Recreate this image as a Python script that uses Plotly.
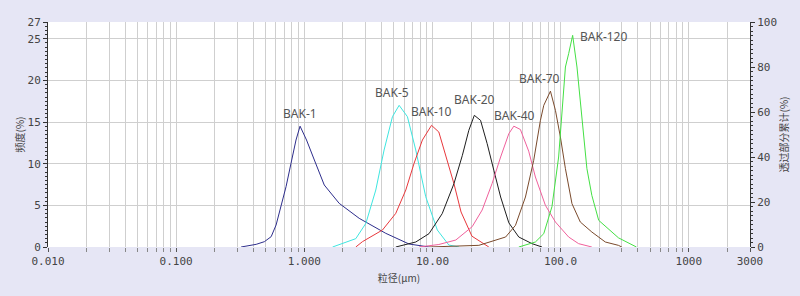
import plotly.graph_objects as go
import numpy as np

# ---------------- data ----------------
names = ["BAK-1", "BAK-5", "BAK-10", "BAK-20", "BAK-40", "BAK-70", "BAK-120"]

bak1_d = [0.321, 0.421, 0.488, 0.551, 0.602, 0.659, 0.720, 0.787, 0.861, 0.926, 1.04, 1.197, 1.43, 1.87, 2.68, 4.32, 6.56, 9.4]
bak1_f = [0.0, 0.32, 0.64, 1.24, 2.64, 4.84, 7.24, 10.04, 12.84, 14.5, 12.84, 10.44, 7.44, 5.24, 3.44, 1.64, 0.36, 0.0]

bak5_d = [1.66, 2.52, 3.02, 3.61, 4.19, 4.87, 5.49, 6.37, 7.40, 8.85, 10.9, 13.4, 16.1]
bak5_f = [0.0, 1.0, 2.84, 6.84, 11.64, 15.64, 17.0, 15.64, 11.64, 6.04, 2.04, 0.24, 0.0]

bak10_d = [2.52, 2.84, 4.07, 5.17, 6.19, 7.18, 8.34, 9.82, 11.2, 12.7, 14.7, 16.7, 20.3, 27.5]
bak10_f = [0.0, 0.64, 2.04, 4.04, 6.84, 10.04, 12.84, 14.6, 13.8, 11.0, 7.6, 4.2, 1.3, 0.0]

bak20_d = [5.17, 7.40, 9.39, 11.9, 14.7, 17.1, 19.2, 21.2, 23.7, 26.7, 30.1, 34.0, 39.4, 47.1, 59.8, 71.5]
bak20_f = [0.0, 0.6, 1.6, 4.0, 7.6, 11.0, 14.0, 15.8, 15.2, 12.4, 9.2, 6.0, 2.9, 1.2, 0.4, 0.0]

bak40_d = [7.85, 11.2, 15.2, 20.4, 24.4, 29.2, 34.0, 39.4, 43.1, 48.5, 56.3, 63.5, 76.0, 91.0, 115.4, 138.0, 175.0]
bak40_f = [0.0, 0.3, 0.84, 2.44, 4.44, 7.64, 10.8, 13.6, 14.5, 14.1, 11.5, 8.4, 5.0, 3.0, 1.2, 0.4, 0.0]

bak70_d = [9.39, 23.0, 37.2, 41.0, 44.4, 53.1, 61.6, 69.5, 73.8, 83.2, 91.0, 99.5, 108.9, 122.5, 142.3, 175.0, 223.0, 282.0, 300.0]
bak70_f = [0.0, 0.2, 1.2, 2.0, 2.6, 6.0, 10.4, 15.2, 17.0, 18.7, 16.4, 13.2, 9.4, 5.2, 3.0, 1.8, 0.6, 0.2, 0.0]

bak120_d = [47.1, 63.5, 73.8, 85.5, 96.4, 102.3, 108.9, 115.4, 124.0, 134.0, 146.5, 160.2, 175.0, 198.0, 282.5, 390.0]
bak120_f = [0.0, 0.6, 1.6, 4.84, 10.8, 16.0, 21.6, 23.2, 25.4, 21.6, 15.4, 9.4, 6.2, 3.2, 1.1, 0.0]

series_d = [bak1_d, bak5_d, bak10_d, bak20_d, bak40_d, bak70_d, bak120_d]
series_f = [bak1_f, bak5_f, bak10_f, bak20_f, bak40_f, bak70_f, bak120_f]

x_tickvals = [0.01, 0.1, 1, 10, 100, 1000, 3000]
x_ticktext = ["0.010", "0.100", "1.000", "10.00", "100.0", "1000", "3000"]
y_tickvals = [0, 5, 10, 15, 20, 25, 27]
y2_tickvals = [0, 20, 40, 60, 80, 100]

# ---------------- styles ----------------
colors = ["#2e2e8c", "#3ee6e0", "#e8383c", "#1e1e1e", "#f0609c", "#7a4a2c", "#44e044"]
label_shift = [(0, 2, "center", "bottom"), (-7, 2, "center", "bottom"), (0, 3, "center", "bottom"),
               (0, 5, "center", "bottom"), (1, 0, "center", "bottom"), (-11, 2, "center", "bottom"),
               (5, -1, "left", "middle")]

minor_vals = [m * 10.0 ** e for e in range(-2, 4) for m in range(2, 10) if m * 10.0 ** e <= 3000]

fig = go.Figure()
for n, d, f, c in zip(names, series_d, series_f, colors):
    fig.add_trace(go.Scatter(x=d, y=f, mode="lines", name=n,
                             line=dict(color=c, width=1), showlegend=False))
# dummy trace to activate the right axis
fig.add_trace(go.Scatter(x=[1], y=[None], yaxis="y2", showlegend=False, hoverinfo="skip"))

for n, d, f, (dx, dy, xa, ya) in zip(names, series_d, series_f, label_shift):
    i = int(np.argmax(f))
    fig.add_annotation(x=np.log10(d[i]), y=f[i], text=n, showarrow=False,
                       xanchor=xa, yanchor=ya, xshift=dx, yshift=dy,
                       font=dict(family="Noto Sans, DejaVu Sans", size=12, color="#555555"))

tick_font = dict(family="DejaVu Sans Mono", size=11, color="#444444")
title_font = dict(family="Noto Sans CJK SC", size=10, color="#444444")
fig.update_layout(
    width=800, height=296,
    margin=dict(l=48, r=48, t=22, b=49),
    paper_bgcolor="#e6e6f5",
    plot_bgcolor="#ffffff",
    xaxis=dict(type="log", range=[-2, np.log10(3000)],
               tickvals=x_tickvals, ticktext=x_ticktext,
               ticks="outside", ticklen=4, tickcolor="#555555",
               showgrid=True, gridcolor="#cfcfcf", gridwidth=1,
               showline=False, zeroline=False, tickfont=tick_font,
               minor=dict(tickvals=minor_vals, showgrid=True, gridcolor="#cfcfcf",
                          ticks="outside", ticklen=4, tickcolor="#888888"),
               title=dict(text="粒径(μm)", standoff=7, font=title_font)),
    yaxis=dict(range=[0, 27], tickvals=y_tickvals, ticks="outside", ticklen=4,
               tickcolor="#333333", showline=True, linecolor="#333333", linewidth=1,
               showgrid=True, gridcolor="#cfcfcf", zeroline=False, tickfont=tick_font,
               minor=dict(dtick=0.5, ticks="outside", ticklen=2, tickcolor="#333333", showgrid=False),
               title=dict(text="频度(%)", standoff=1, font=title_font)),
    yaxis2=dict(range=[0, 100], tickvals=y2_tickvals, overlaying="y", side="right",
                ticks="outside", ticklen=4, tickcolor="#333333", showline=True,
                linecolor="#333333", linewidth=1, showgrid=False, zeroline=False,
                tickfont=tick_font,
                minor=dict(dtick=2, ticks="outside", ticklen=2, tickcolor="#333333"),
                title=dict(text="透过部分累计(%)", standoff=4, font=title_font)),
)

fig.write_html("out.html")
